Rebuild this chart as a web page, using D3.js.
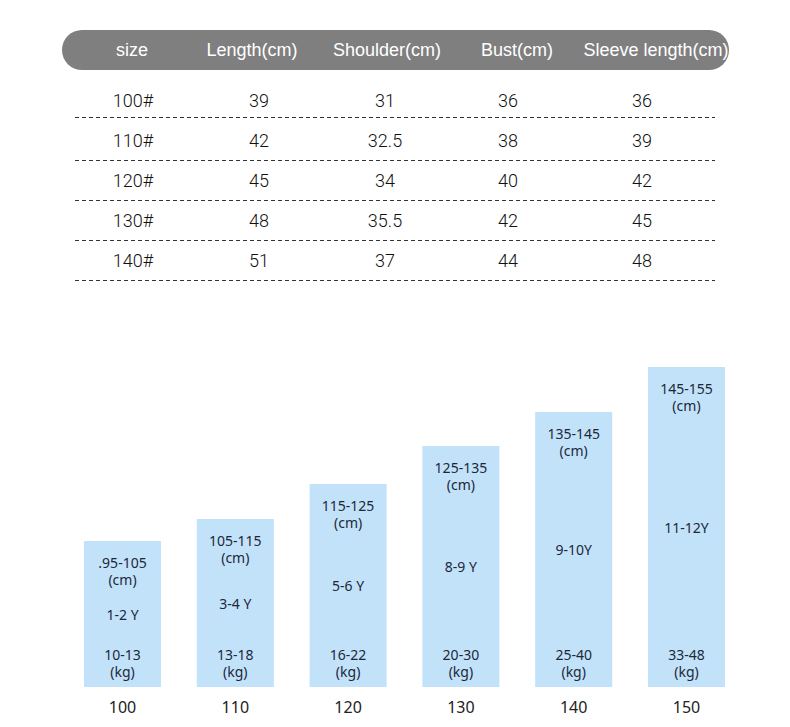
<!DOCTYPE html>
<html>
<head>
<meta charset="utf-8">
<script src="https://cdn.jsdelivr.net/npm/d3@7"></script>
<style>
  html, body { margin: 0; padding: 0; background: #fff; }
  svg { display: block; }
</style>
</head>
<body>
<div id="holder"></div>
<script>
// size table
const headers = ['size', 'Length(cm)', 'Shoulder(cm)', 'Bust(cm)', 'Sleeve length(cm)'];
const sizes = ['100#', '110#', '120#', '130#', '140#'];
const lengths = [39, 42, 45, 48, 51];
const shoulders = [31, 32.5, 34, 35.5, 37];
const busts = [36, 38, 40, 42, 44];
const sleeves = [36, 39, 42, 45, 48];

// height chart
const barSizes = ['100', '110', '120', '130', '140', '150'];
const heightRanges = ['.95-105', '105-115', '115-125', '125-135', '135-145', '145-155'];
const ages = ['1-2 Y', '3-4 Y', '5-6 Y', '8-9 Y', '9-10Y', '11-12Y'];
const weights = ['10-13', '13-18', '16-22', '20-30', '25-40', '33-48'];
const barLevels = [146, 168, 203, 241, 275, 320];

const w = 790;
const h = 727;

const svg = d3.select('#holder')
    .append('svg')
    .attr('width', w)
    .attr('height', h);

// ---- table ----
const tableFont = 'Roboto, "Noto Sans", sans-serif';
const headFont = '"Liberation Sans", Arial, sans-serif';

const headX = d3.scaleOrdinal()
    .domain(headers)
    .range([132, 252, 387, 517, 656]);

const colX = d3.scaleOrdinal()
    .domain(d3.range(headers.length))
    .range([133, 259, 385, 508, 642]);

const rowY = d3.scalePoint()
    .domain(sizes)
    .range([101, 261]);

svg.append('defs')
    .append('clipPath')
    .attr('id', 'pill')
    .append('rect')
    .attr('x', 62).attr('y', 30)
    .attr('width', 667).attr('height', 40)
    .attr('rx', 20);

svg.append('rect')
    .attr('x', 62).attr('y', 30)
    .attr('width', 667).attr('height', 40)
    .attr('rx', 20)
    .attr('fill', '#7f7f7f');

svg.append('g')
    .attr('clip-path', 'url(#pill)')
    .selectAll('text')
    .data(headers)
    .enter()
    .append('text')
    .attr('x', d => headX(d))
    .attr('y', 50)
    .attr('dy', '0.35em')
    .attr('text-anchor', 'middle')
    .attr('fill', '#fff')
    .style('font-family', headFont)
    .style('font-size', '18px')
    .text(d => d);

const rows = sizes.map((s, i) => [s, lengths[i], shoulders[i], busts[i], sleeves[i]]);

const rowG = svg.append('g')
    .selectAll('g')
    .data(rows)
    .enter()
    .append('g')
    .attr('transform', (_, i) => 'translate(0,' + rowY(sizes[i]) + ')');

rowG.selectAll('text')
    .data(d => d)
    .enter()
    .append('text')
    .attr('x', (_, j) => colX(j))
    .attr('dy', '0.35em')
    .attr('text-anchor', 'middle')
    .attr('fill', '#111')
    .style('font-family', tableFont)
    .style('font-weight', 300)
    .style('font-size', '18px')
    .text(d => d);

rowG.append('line')
    .attr('x1', 75).attr('x2', 715)
    .attr('y1', (_, i) => i === 0 ? 16.5 : 19.5)
    .attr('y2', (_, i) => i === 0 ? 16.5 : 19.5)
    .attr('stroke', '#333')
    .attr('stroke-width', 1)
    .attr('stroke-dasharray', '4,3');

// ---- bars ----
const barFont = '"Noto Sans", "DejaVu Sans", sans-serif';
const base = 687;

const xScale = d3.scaleBand()
    .domain(barSizes)
    .range([84, 725])
    .paddingInner(0.317)
    .paddingOuter(0);

const yScale = d3.scaleLinear()
    .domain([0, d3.max(barLevels)])
    .range([base, 367]);

const bars = svg.append('g')
    .selectAll('g')
    .data(barSizes)
    .enter()
    .append('g')
    .attr('transform', d => 'translate(' + xScale(d) + ',0)');

bars.append('rect')
    .attr('class', 'bar')
    .attr('x', 0)
    .attr('y', (_, i) => yScale(barLevels[i]))
    .attr('width', xScale.bandwidth())
    .attr('height', (_, i) => base - yScale(barLevels[i]))
    .attr('fill', '#c2e2fa');

const cx = xScale.bandwidth() / 2;

function label(sel, yFn, txtFn) {
    sel.append('text')
        .attr('x', cx)
        .attr('y', yFn)
        .attr('dy', '0.35em')
        .attr('text-anchor', 'middle')
        .attr('fill', '#1c2838')
        .style('font-family', barFont)
        .style('font-size', '14px')
        .text(txtFn);
}

label(bars, (_, i) => yScale(barLevels[i]) + 22, (_, i) => heightRanges[i]);
label(bars, (_, i) => yScale(barLevels[i]) + 39, () => '(cm)');
label(bars, (_, i) => (yScale(barLevels[i]) + base) / 2 + 1, (_, i) => ages[i]);
label(bars, () => base - 32, (_, i) => weights[i]);
label(bars, () => base - 15, () => '(kg)');

const xAxis = d3.axisBottom(xScale).tickSize(0).tickPadding(0);

svg.append('g')
    .attr('transform', 'translate(0,' + (base + 13) + ')')
    .call(xAxis)
    .call(g => g.select('.domain').remove())
    .selectAll('text')
    .attr('dy', '0.8em')
    .attr('fill', '#222')
    .style('font-family', barFont)
    .style('font-size', '16px');
</script>
</body>
</html>
